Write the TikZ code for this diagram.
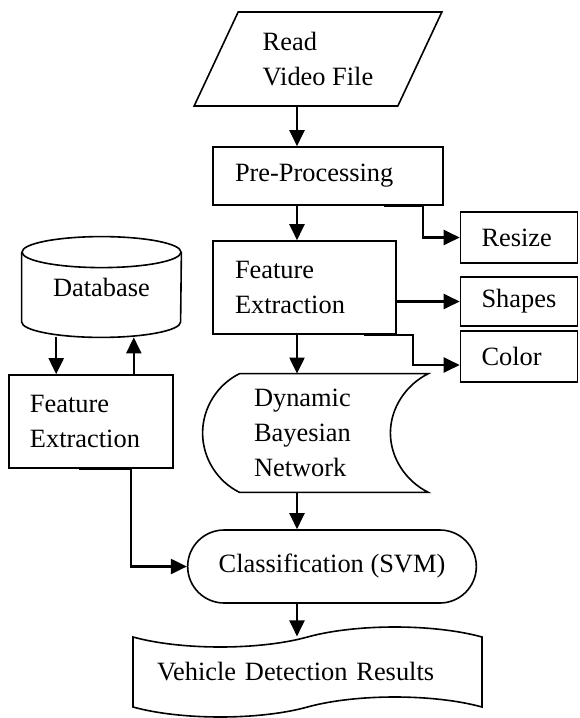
\documentclass[tikz,border=0pt]{standalone}
\usepackage{fontspec}
\setmainfont{Liberation Serif}
\usetikzlibrary{arrows.meta, positioning, shapes.geometric, shapes.misc, shapes.symbols}

\begin{document}
\begin{tikzpicture}[
        x=0.5pt, y=-0.5pt,
        font=\fontsize{13.2}{17.5}\selectfont,
        box/.style={rectangle, draw=black, line width=0.8pt, inner xsep=11pt, align=left},
        sidebox/.style={box, inner xsep=10.5pt, minimum width=58.5pt, minimum height=25.5pt, text width=37.5pt},
        arrow/.style={-{Triangle[length=8pt, width=7.5pt]}, line width=1.1pt}
    ]
        \useasboundingbox (0,0) rectangle (579,718);
        \coordinate (axis) at (297,0);

        % Nodes
        \node[trapezium, trapezium left angle=63, trapezium right angle=117, trapezium stretches=true, draw=black, line width=0.8pt, minimum width=124pt, minimum height=47pt, align=left] (read) at (318,59) {Read\\Video File};
        \node[box, minimum width=115pt, minimum height=29pt, text width=93pt] (pre) at (328,176) {Pre-Processing};
        \node[box, minimum width=91.5pt, minimum height=46.5pt, text width=69.5pt] (fe) at (304.5,287.5) {Feature\\Extraction};
        \node[sidebox] (resize) at (519,237.5) {Resize};
        \node[sidebox, minimum height=24.5pt] (shapes) at (519,301.5) {Shapes};
        \node[sidebox] (color) at (519,356.5) {Color};
        \node[inner xsep=7pt, text width=80pt, minimum height=59pt, align=left] (dbn) at (334,433) {Dynamic\\Bayesian\\Network};
        \node[rounded rectangle, draw=black, line width=0.8pt, minimum width=151pt, minimum height=36.5pt] (classify) at (332,566.5) {Classification (SVM)};
        \node[tape, draw=black, line width=0.8pt, tape bend height=10pt, inner xsep=12pt, text width=150.5pt, align=left, minimum height=45pt] (results) at (307.5,672) {Vehicle Detection Results};
        \node[minimum width=79.5pt, minimum height=50pt] (db) at (101.5,287) {Database};
        \node[box, inner xsep=10.5pt, minimum width=82pt, minimum height=46.5pt, text width=61pt] (fe2) at (91,421.5) {Feature\\Extraction};

        % database outline
        \draw[line width=0.8pt] ([yshift=-7.75pt]db.north) ellipse [x radius=39.75pt, y radius=7.75pt];
        \draw[line width=0.8pt] ([yshift=-7.75pt]db.north west) -- ([yshift=7.75pt]db.south west)
            arc[start angle=180, end angle=360, x radius=39.75pt, y radius=7.75pt]
            -- ([yshift=-7.75pt]db.north east);

        % stored data outline
        \draw[line width=0.8pt] (dbn.north west) -- (dbn.north east)
            .. controls +(-11.2pt,-5.5pt) and +(0,12.5pt) .. ([xshift=-19pt]dbn.east)
            .. controls +(0,-12.5pt) and +(-11.2pt,5.5pt) .. (dbn.south east)
            -- (dbn.south west)
            .. controls +(-11.2pt,5.5pt) and +(0,-12.5pt) .. ([xshift=-18.5pt]dbn.west)
            .. controls +(0,12.5pt) and +(-11.2pt,-5.5pt) .. (dbn.north west);

        % Arrows
        \draw[arrow] (read.south -| axis) -- (pre.north -| axis);
        \draw[arrow] (pre.south -| axis) -- (fe.north -| axis);
        \draw[arrow] ([xshift=-30pt]pre.south east) -- ([xshift=-10.5pt]pre.south east) |- (resize.west);
        \draw[arrow] (fe.east |- shapes.west) -- (shapes.west);
        \draw[arrow] ([xshift=-16.5pt]fe.south east) -- ([xshift=8pt]fe.south east) |- ([yshift=-4.25pt]color.west);
        \draw[arrow] (fe.south -| axis) -- (dbn.north -| axis);
        \draw[arrow] (dbn.south -| axis) -- (classify.north -| axis);
        \draw[arrow] (classify.south -| axis) -- (results.north -| axis);
        \draw[arrow] ([xshift=24pt]fe2.north west |- db.south) -- ([xshift=24pt]fe2.north west);
        \draw[arrow] ([xshift=-20pt]fe2.north east) -- ([xshift=-20pt]fe2.north east |- db.south);
        \draw[arrow] ([xshift=-47.5pt]fe2.south east) -- ([xshift=-21.5pt]fe2.south east) |- (classify.west);
    \end{tikzpicture}
\end{document}
